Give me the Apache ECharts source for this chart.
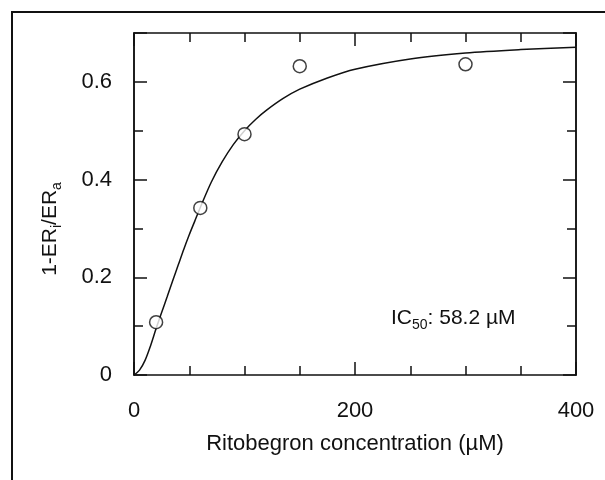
<!DOCTYPE html>
<html>
<head>
<meta charset="utf-8">
<script src="https://cdn.jsdelivr.net/npm/echarts@6.0.0/dist/echarts.min.js"></script>
<style>
  html, body { margin: 0; padding: 0; background: #fff; }
  #root { width: 605px; height: 480px; }
</style>
</head>
<body>
<div id="root"></div>
<script>
// measured points
const pointX = [20, 60, 100, 150, 300]
const pointY = [0.108, 0.342, 0.493, 0.632, 0.636]

// fitted curve
const curveX = [0, 5, 10, 15, 20, 25, 30, 35, 40, 45, 50, 55, 60, 70, 80, 90, 100, 110, 120, 135, 150, 175, 200, 250, 300, 350, 400]
const curveY = [0, 0.01, 0.03, 0.06, 0.095, 0.128, 0.16, 0.193, 0.225, 0.257, 0.287, 0.315, 0.343, 0.395, 0.437, 0.472, 0.5, 0.523, 0.542, 0.566, 0.585, 0.608, 0.626, 0.647, 0.659, 0.666, 0.671]

const yLabels = ['0', '0.2', '0.4', '0.6']

const font = 'Liberation Sans, Arial, Helvetica, sans-serif'
const ink = '#111'

const chart = echarts.init(document.getElementById('root'))

const xBase = (position, showLabel) => ({
  type: 'value',
  position,
  min: 0,
  max: 400,
  interval: 200,
  axisLine: { show: true, onZero: false, lineStyle: { color: ink, width: 1.5 } },
  axisTick: { show: true, inside: true, length: 13, lineStyle: { color: ink, width: 1.5 } },
  minorTick: { show: true, splitNumber: 4, length: 9, lineStyle: { color: ink, width: 1.5 } },
  splitLine: { show: false },
  axisLabel: {
    show: showLabel,
    margin: 25,
    color: ink,
    fontSize: 22,
    fontFamily: font
  }
})

const yBase = (position, interval, len, showLabel) => ({
  type: 'value',
  position,
  min: 0,
  max: 0.7,
  interval,
  axisLine: { show: true, onZero: false, lineStyle: { color: ink, width: 1.5 } },
  axisTick: { show: true, inside: true, length: len, lineStyle: { color: ink, width: 1.5 } },
  splitLine: { show: false },
  axisLabel: {
    show: showLabel,
    margin: 22,
    color: ink,
    fontSize: 22,
    fontFamily: font,
    formatter: v => {
      const s = String(Math.round(v * 10) / 10)
      return yLabels.includes(s) ? s : ''
    }
  }
})

chart.setOption({
  animation: false,
  backgroundColor: '#fff',
  grid: { left: 134, right: 29, top: 33, bottom: 105 },
  xAxis: [
    xBase('bottom', true),
    xBase('top', false)
  ],
  yAxis: [
    yBase('left', 0.1, 9, true),
    yBase('left', 0.2, 13, false),
    yBase('right', 0.1, 9, false),
    yBase('right', 0.2, 13, false)
  ],
  graphic: [
    {
      type: 'rect',
      shape: { x: 12, y: 12, width: 640, height: 520 },
      style: { fill: 'none', stroke: ink, lineWidth: 2 },
      silent: true
    },
    {
      type: 'text',
      x: 355,
      y: 444,
      style: {
        text: 'Ritobegron concentration (µM)',
        fill: ink,
        font: '22px ' + font,
        align: 'center',
        verticalAlign: 'middle'
      }
    },
    {
      type: 'text',
      x: 50,
      y: 229,
      rotation: Math.PI / 2,
      style: {
        text: '{b|1-ER}{s|i}{b|/ER}{s|a}',
        align: 'center',
        verticalAlign: 'middle',
        rich: {
          b: { fontSize: 21, fontFamily: font, fill: ink, lineHeight: 28, verticalAlign: 'middle' },
          s: { fontSize: 14, fontFamily: font, fill: ink, lineHeight: 28, verticalAlign: 'bottom' }
        }
      }
    },
    {
      type: 'text',
      x: 391,
      y: 318,
      style: {
        text: '{b|IC}{s|50}{b|: 58.2 µM}',
        align: 'left',
        verticalAlign: 'middle',
        rich: {
          b: { fontSize: 21, fontFamily: font, fill: ink, lineHeight: 28, verticalAlign: 'middle' },
          s: { fontSize: 14, fontFamily: font, fill: ink, lineHeight: 28, verticalAlign: 'bottom' }
        }
      }
    }
  ],
  series: [
    {
      type: 'line',
      data: curveX.map((x, i) => [x, curveY[i]]),
      showSymbol: false,
      smooth: 0.3,
      lineStyle: { color: ink, width: 1.5 },
      z: 2
    },
    {
      type: 'scatter',
      data: pointX.map((x, i) => [x, pointY[i]]),
      symbol: 'circle',
      symbolSize: 13,
      itemStyle: { color: '#fff', borderColor: ink, borderWidth: 1.5 },
      z: 3
    }
  ]
})
</script>
</body>
</html>
